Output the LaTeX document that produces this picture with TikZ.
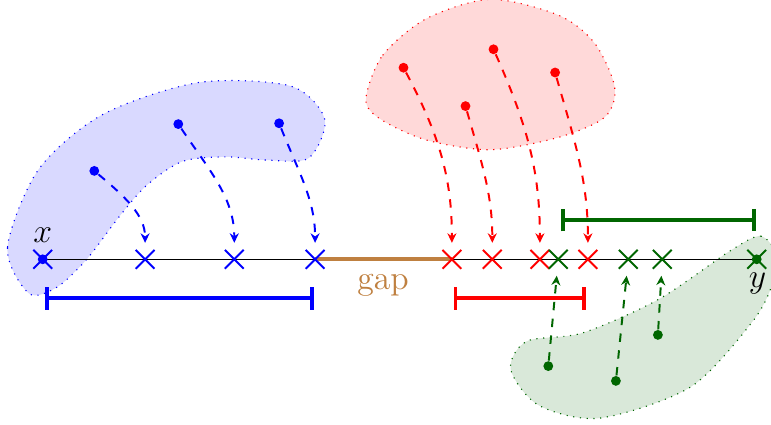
\documentclass[tikz,border=0pt]{standalone}
\usepackage{amsmath}
\usepackage{amssymb}
\usepackage{tikz}
\usepackage{tkz-euclide}
\usepackage{xcolor}
\usetikzlibrary{arrows.meta,shapes.misc}

\definecolor{dkgreen}{rgb}{0,0.4,0}
\tikzset{
  blob/.style={draw=#1,fill=#1!15,dotted,thin},
  crs/.style={cross out,draw=#1,minimum size=6pt,inner sep=0pt,line width=0.7pt},
  pnt/.style={circle,fill=#1,minimum size=3.5pt,inner sep=0pt},
  proj/.style={#1,dashed,line width=0.7pt,-{Stealth[length=3.4pt,width=3.2pt]},shorten >=2.5pt},
  intv/.style={#1,line width=1.4pt,{Bar[width=8pt]}-{Bar[width=8pt]}}
}

\begin{document}
\begin{tikzpicture}[scale=0.5]
    \useasboundingbox (-1.0675,-4.1425) rectangle (18.2075,6.4825);
    % points on the line
    \tkzDefPoints{0/0/X,17.85/0/Y,2.56/0/B1,4.79/0/B2,6.81/0/B3}
    \tkzDefPoints{10.23/0/R1,11.24/0/R2,12.43/0/R3,13.63/0/R4}
    \tkzDefPoints{12.89/0/G1,14.64/0/G2,15.49/0/G3}
    % points off the line
    \tkzDefPoints{1.29/2.21/b1,3.39/3.38/b2,5.91/3.40/b3}
    \tkzDefPoints{9.02/4.79/r1,10.57/3.83/r2,11.27/5.25/r3,12.81/4.67/r4}
    \tkzDefPoints{12.64/-2.67/g1,14.33/-3.04/g2,15.38/-1.89/g3}
    % interval ends
    \tkzDefPoints{0.06/-0.975/bL,6.77/-0.975/bR,10.27/-0.975/rL,13.59/-0.975/rR}
    \tkzDefPoints{12.96/0.98/gL,17.83/0.98/gR}
    % clouds
    \filldraw[blob=blue] plot[smooth cycle] coordinates {(-0.35,-0.85) (-0.88,0.3) (-0.1,2.25) (1.5,3.62) (3.9,4.42) (6.2,4.33) (7.05,3.5) (6.65,2.53) (5.6,2.48) (4.6,2.56) (3.5,2.45) (2.6,1.85) (1.9,1.05) (1.1,0) (0.35,-0.7)};
    \filldraw[blob=red] plot[smooth cycle] coordinates {(8.08,4.0) (8.5,5.1) (9.6,6.02) (11.2,6.5) (12.9,6.1) (13.8,5.4) (14.3,4.3) (14.05,3.55) (12.9,3.05) (11.2,2.74) (9.6,2.98) (8.45,3.5)};
    \filldraw[blob=dkgreen] plot[smooth cycle] coordinates {(17.2,0.22) (17.95,0.58) (18.35,0.1) (18.25,-0.6) (17.75,-1.55) (16.2,-3.19) (13.93,-3.97) (12.4,-3.65) (11.7,-2.75) (12.1,-2.05) (13.5,-1.84) (15.4,-1.0)};
    % the line and the gap
    \draw (X) -- (Y);
    \draw[brown,line width=1.4pt] (B3) -- (R1);
    \node[brown,font=\large] (gp) at (8.51,-0.64) {gap};
    % intervals
    \draw[intv=blue] (bL) -- (bR);
    \draw[intv=red] (rL) -- (rR);
    \draw[intv=dkgreen] (gL) -- (gR);
    % crosses
    \node[pnt=blue] (pX) at (X) {};
    \node[crs=blue] (cX) at (X) {};
    \node[pnt=dkgreen] (pY) at (Y) {};
    \node[crs=dkgreen] (cY) at (Y) {};
    \node[crs=blue] (cB1) at (B1) {};
    \node[crs=blue] (cB2) at (B2) {};
    \node[crs=blue] (cB3) at (B3) {};
    \node[crs=red] (cR1) at (R1) {};
    \node[crs=red] (cR2) at (R2) {};
    \node[crs=red] (cR3) at (R3) {};
    \node[crs=red] (cR4) at (R4) {};
    \node[crs=dkgreen] (cG1) at (G1) {};
    \node[crs=dkgreen] (cG2) at (G2) {};
    \node[crs=dkgreen] (cG3) at (G3) {};
    \node[font=\large] (lx) at (0,0.6) {$x$};
    \node[font=\large] (ly) at (17.87,-0.6) {$y$};
    % sample points and their images
    \node[pnt=blue] (pb1) at (b1) {};
    \node[pnt=blue] (pb2) at (b2) {};
    \node[pnt=blue] (pb3) at (b3) {};
    \node[pnt=red] (pr1) at (r1) {};
    \node[pnt=red] (pr2) at (r2) {};
    \node[pnt=red] (pr3) at (r3) {};
    \node[pnt=red] (pr4) at (r4) {};
    \node[pnt=dkgreen] (pg1) at (g1) {};
    \node[pnt=dkgreen] (pg2) at (g2) {};
    \node[pnt=dkgreen] (pg3) at (g3) {};
    \draw[proj=blue] (pb1) to[out=-40,in=90] (cB1);
    \draw[proj=blue] (pb2) to[out=-56,in=90] (cB2);
    \draw[proj=blue] (pb3) to[out=-68,in=90] (cB3);
    \draw[proj=red] (pr1) to[out=-62,in=90] (cR1);
    \draw[proj=red] (pr2) to[out=-74,in=90] (cR2);
    \draw[proj=red] (pr3) to[out=-66,in=90] (cR3);
    \draw[proj=red] (pr4) to[out=-74,in=90] (cR4);
    \draw[proj=dkgreen] (pg1) -- (cG1);
    \draw[proj=dkgreen] (pg2) -- (cG2);
    \draw[proj=dkgreen] (pg3) -- (cG3);
    % \tkzDrawPoints(X,Y)
\end{tikzpicture}
\end{document}
